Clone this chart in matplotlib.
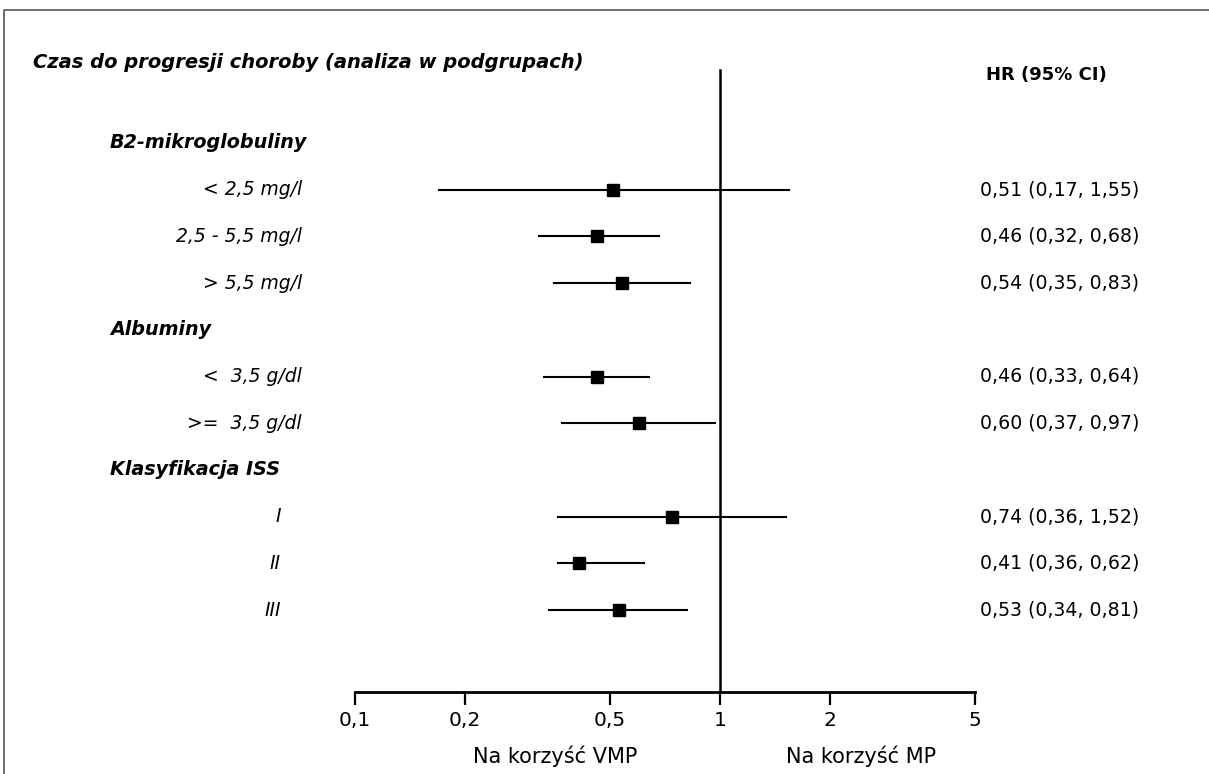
import matplotlib
matplotlib.use("Agg")
import matplotlib.pyplot as plt
import matplotlib.transforms as mtransforms
from matplotlib.lines import Line2D

plt.rcParams['font.family'] = ['DejaVu Sans']

# ---- data ----
title = "Czas do progresji choroby (analiza w podgrupach)"
col_header = "HR (95% CI)"
group_names = ["B2-mikroglobuliny", "Albuminy", "Klasyfikacja ISS"]
group_rows = [0, 4, 7]
sub_labels = ["< 2,5 mg/l", "2,5 - 5,5 mg/l", "> 5,5 mg/l",
              "<  3,5 g/dl", ">=  3,5 g/dl",
              "I", "II", "III"]
sub_rows = [1, 2, 3, 5, 6, 8, 9, 10]
hr = [0.51, 0.46, 0.54, 0.46, 0.60, 0.74, 0.41, 0.53]
ci_low = [0.17, 0.32, 0.35, 0.33, 0.37, 0.36, 0.36, 0.34]
ci_high = [1.55, 0.68, 0.83, 0.64, 0.97, 1.52, 0.62, 0.81]
tick_values = [0.1, 0.2, 0.5, 1, 2, 5]
tick_labels = ["0,1", "0,2", "0,5", "1", "2", "5"]
favour_left = "Na korzyść VMP"
favour_right = "Na korzyść MP"

W, H = 1209, 774
fig = plt.figure(figsize=(W / 100, H / 100), dpi=100)

# axes placed in pixel terms
ax_left, ax_right = 355, 975
ax_top, ax_bottom = 10, 692
ax = fig.add_axes([ax_left / W, 1 - ax_bottom / H,
                   (ax_right - ax_left) / W, (ax_bottom - ax_top) / H])
row0_px, row_step = 143, 46.7
def px_to_row(p):
    return (p - row0_px) / row_step
ax.set_xscale('log')
ax.set_xlim(0.1, 5)
ax.set_ylim(px_to_row(ax_bottom), px_to_row(ax_top))

for s in ['top', 'right', 'left']:
    ax.spines[s].set_visible(False)
ax.spines['bottom'].set_linewidth(2)
ax.set_yticks([])
ax.set_xticks(tick_values)
ax.set_xticklabels(tick_labels)
ax.xaxis.set_minor_locator(matplotlib.ticker.NullLocator())
ax.tick_params(axis='x', direction='out', length=9.5, width=1.6, pad=4,
               labelsize=14.5)

# reference line at 1
ax.plot([1, 1], [px_to_row(70), px_to_row(ax_bottom)], color='black', lw=1.8,
        clip_on=False)

# CI lines and markers
for r, h, lo, hi in zip(sub_rows, hr, ci_low, ci_high):
    ax.plot([lo, hi], [r, r], color='black', lw=1.5)
    ax.plot([h], [r], marker='s', color='black', markersize=9, linestyle='none')

# text transforms: x in figure pixels fraction, y in data rows
tr = mtransforms.blended_transform_factory(fig.transFigure, ax.transData)

fig.text(33 / W, 1 - 62 / H, title, fontsize=14, fontweight='bold',
         fontstyle='italic', ha='left', va='center')
fig.text(986 / W, 1 - 75 / H, col_header, fontsize=13, fontweight='bold',
         ha='left', va='center')

for name, r in zip(group_names, group_rows):
    ax.text(110 / W, r, name, transform=tr, fontsize=13.8, fontweight='bold',
            fontstyle='italic', ha='left', va='center')

for lab, r in zip(sub_labels, sub_rows):
    xr = 281 if lab in ("I", "II", "III") else 302
    ax.text(xr / W, r, lab, transform=tr, fontsize=13.5, fontstyle='italic',
            ha='right', va='center')

for r, h, lo, hi in zip(sub_rows, hr, ci_low, ci_high):
    s = f"{h:.2f} ({lo:.2f}, {hi:.2f})".replace('.', ',')
    ax.text(980 / W, r, s, transform=tr, fontsize=13.6, ha='left', va='center')

fig.text(555 / W, 1 - 756 / H, favour_left, fontsize=15, ha='center', va='center')
fig.text(861 / W, 1 - 756 / H, favour_right, fontsize=15, ha='center', va='center')

# outer frame (left and top)
fig.add_artist(Line2D([4 / W, 4 / W, 1.0], [0.0, 1 - 10 / H, 1 - 10 / H],
                      transform=fig.transFigure, color='#555555', lw=1.2))

fig.savefig("out.png", dpi=100)
